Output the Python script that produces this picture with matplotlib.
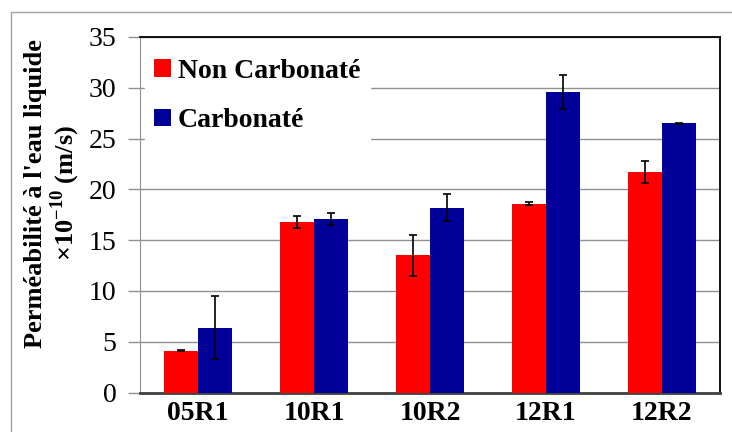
import matplotlib
matplotlib.use("Agg")
import matplotlib.pyplot as plt
import numpy as np
from matplotlib.patches import Rectangle

# donnees
echantillons = ["05R1", "10R1", "10R2", "12R1", "12R2"]
non_carb = [4.1, 16.8, 13.5, 18.6, 21.7]
non_carb_err = [0.05, 0.6, 2.0, 0.15, 1.05]
carb = [6.4, 17.1, 18.2, 29.6, 26.5]
carb_err = [3.1, 0.6, 1.3, 1.7, 0.05]
yticks = [0, 5, 10, 15, 20, 25, 30, 35]

plt.rcParams["font.family"] = ["Liberation Serif", "DejaVu Serif"]
plt.rcParams["mathtext.fontset"] = "custom"
plt.rcParams["mathtext.rm"] = "Liberation Serif"
plt.rcParams["mathtext.bf"] = "Liberation Serif:bold"

fig = plt.figure(figsize=(7.32, 4.32), dpi=100)
ax = fig.add_axes([0.1913, 0.0914, 0.7923, 0.823])

# cadre exterieur (coupe a droite et en bas)
fig.patches.append(Rectangle((11 / 732, -0.1), 1.0, (1 - 12 / 432) + 0.1,
                             transform=fig.transFigure, fill=False,
                             edgecolor="#a0a0a0", linewidth=1.0))

x = np.arange(len(echantillons))
w = 0.29
ekw = dict(elinewidth=1.2, capsize=3, capthick=1.2, ecolor="black")
ax.bar(x - w / 2, non_carb, w, color="#ff0000", yerr=non_carb_err,
       error_kw=ekw, label="Non Carbonaté", zorder=3)
ax.bar(x + w / 2, carb, w, color="#000099", yerr=carb_err,
       error_kw=ekw, label="Carbonaté", zorder=3)

ax.set_xlim(-0.5, len(echantillons) - 0.5)
ax.set_ylim(0, 35)
ax.set_yticks(yticks)
ax.set_xticks(x)
ax.set_xticklabels(echantillons, fontsize=20, fontweight="bold")
ax.tick_params(axis="y", labelsize=20, length=9, width=1, color="#909090",
               direction="out", pad=8)
ax.tick_params(axis="x", length=0, pad=6)
ax.yaxis.grid(True, color="#909090", linewidth=1.0, zorder=0)
ax.set_axisbelow(True)

ax.spines["left"].set_color("#909090")
ax.spines["bottom"].set_color("#404040")
ax.spines["bottom"].set_linewidth(2)
ax.spines["top"].set_color("black")
ax.spines["top"].set_linewidth(1.3)
ax.spines["right"].set_color("black")
ax.spines["right"].set_linewidth(1.3)

ax.set_ylabel("Perméabilité à l'eau liquide\n×10$^{\\mathbf{-10}}$ (m/s)",
              fontsize=19, fontweight="bold", linespacing=1.05)
ax.yaxis.set_label_coords(-0.10, 0.56)

leg = ax.legend(loc="upper left", bbox_to_anchor=(-0.016, 1.005), frameon=True,
                prop={"weight": "bold", "size": 20},
                handlelength=0.6, handleheight=0.6, handletextpad=0.25,
                labelspacing=0.88, borderpad=0.35, fancybox=False)
leg.get_frame().set_edgecolor("white")
leg.get_frame().set_facecolor("white")
leg.get_frame().set_alpha(1.0)

fig.savefig("out.png", dpi=100)
